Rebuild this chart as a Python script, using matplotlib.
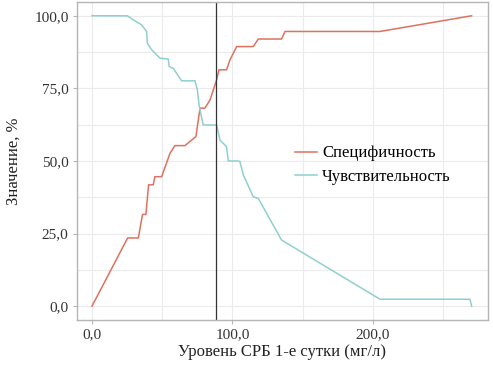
import matplotlib
matplotlib.use("Agg")
import matplotlib.pyplot as plt
from matplotlib.ticker import FuncFormatter, MultipleLocator

# Specificity curve (x = CRP level, y = %)
spec_x = [0, 25.4, 33.0, 36.0, 38.4, 40.3, 43.6, 44.8, 49.6, 55.5, 59.0, 66.2,
          74.0, 76.9, 80.4, 84.0, 88.7, 90.4, 95.8, 98.2, 103.0, 114.8, 118.4,
          134.9, 137.4, 205.0, 270.2]
spec_y = [0, 23.5, 23.5, 31.6, 31.6, 41.8, 41.8, 44.6, 44.6, 52.6, 55.3, 55.3,
          58.4, 68.2, 68.2, 71.0, 77.9, 81.4, 81.4, 84.8, 89.4, 89.4, 92.0,
          92.0, 94.6, 94.6, 100.0]

# Sensitivity curve
sens_x = [0, 25.2, 29.4, 35.3, 38.9, 39.4, 42.5, 48.4, 54.3, 55.0, 57.9, 63.8,
          73.3, 75.0, 76.4, 79.2, 88.7, 91.1, 95.8, 97.0, 104.1, 105.3, 107.7,
          114.8, 118.4, 134.9, 205.0, 269.0, 270.2]
sens_y = [100, 100, 98.6, 96.9, 94.6, 90.6, 88.3, 85.4, 85.1, 82.5, 81.9, 77.6,
          77.6, 74.5, 68.7, 62.4, 62.4, 57.2, 54.9, 50.0, 50.0, 49.8, 45.2,
          37.7, 37.1, 22.8, 2.4, 2.4, 0.0]

cutoff = 88.3

plt.rcParams["font.family"] = ["Liberation Serif", "DejaVu Serif"]

fig = plt.figure(figsize=(4.93, 3.68), dpi=100)
ax = fig.add_axes([0.156, 0.130, 0.834, 0.865])

ax.plot(spec_x, spec_y, color="#e0705f", lw=1.1, label="Специфичность")
ax.plot(sens_x, sens_y, color="#8fcfcf", lw=1.1, label="Чувствительность")
ax.axvline(cutoff, color="#333333", lw=0.9)

ax.set_xlim(-10.7, 281.9)
ax.set_ylim(-4.8, 104.8)
ax.xaxis.set_major_locator(MultipleLocator(100))
ax.xaxis.set_minor_locator(MultipleLocator(50))
ax.yaxis.set_major_locator(MultipleLocator(25))
ax.yaxis.set_minor_locator(MultipleLocator(12.5))
fmt = FuncFormatter(lambda v, p: ("%.1f" % v).replace(".", ","))
ax.xaxis.set_major_formatter(fmt)
ax.yaxis.set_major_formatter(fmt)

ax.grid(True, which="both", color="#ebebeb", lw=0.8)
ax.set_axisbelow(True)
for s in ax.spines.values():
    s.set_color("#b5b5b5")
    s.set_linewidth(1.0)
ax.tick_params(which="major", length=3, color="#b5b5b5", labelsize=11,
               labelcolor="#333333", pad=3)
ax.tick_params(which="minor", length=0)

ax.set_xlabel("Уровень СРБ 1-е сутки (мг/л)", fontsize=12, color="#222222", labelpad=2)
ax.set_ylabel("Значение, %", fontsize=12, color="#222222", labelpad=9)

ax.legend(loc="center left", bbox_to_anchor=(0.495, 0.487), frameon=False,
          fontsize=12, handlelength=1.3, handletextpad=0.3, labelspacing=0.45)

fig.savefig("out.png", dpi=100)
